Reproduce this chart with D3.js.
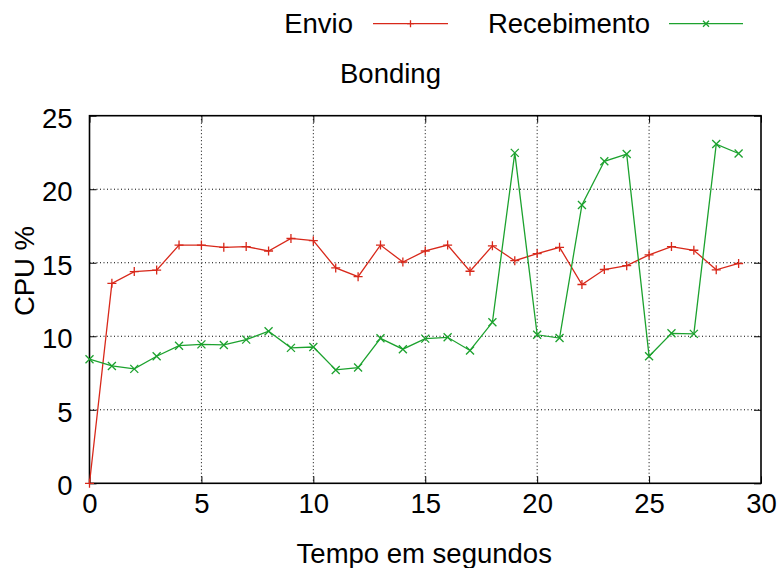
<!DOCTYPE html>
<html>
<head>
<meta charset="utf-8">
<script src="https://cdn.jsdelivr.net/npm/d3@7/dist/d3.min.js"></script>
<style>
  html, body { margin: 0; padding: 0; background: #fff; }
  text { font-family: "Liberation Sans", Arial, Helvetica, sans-serif; fill: #000; }
</style>
</head>
<body>
<svg id="chart" width="783" height="568"></svg>
<script>
const seconds = d3.range(0, 30);
const envio = [0, 13.6, 14.4, 14.5, 16.2, 16.2, 16.05, 16.1, 15.8, 16.65,
               16.5, 14.65, 14.05, 16.2, 15.05, 15.8, 16.2, 14.42, 16.15, 15.14,
               15.62, 16.05, 13.52, 14.54, 14.8, 15.54, 16.1, 15.85, 14.52, 14.95];
const recebimento = [8.44, 7.98, 7.78, 8.64, 9.36, 9.45, 9.41, 9.77, 10.34, 9.21,
                     9.27, 7.71, 7.87, 9.86, 9.12, 9.84, 9.93, 9.03, 10.95, 22.47,
                     10.1, 9.88, 18.93, 21.9, 22.39, 8.64, 10.2, 10.16, 23.07, 22.43];
const xTicks = [0, 5, 10, 15, 20, 25, 30];
const yTicks = [0, 5, 10, 15, 20, 25];
const seriesNames = ["Envio", "Recebimento"];
const legendTitle = "Bonding";
const xLabel = "Tempo em segundos";
const yLabel = "CPU %";

const RED = "#d8281a", GREEN = "#1ca22e";
const FS = 27.5;

const svg = d3.select("#chart");
const L = 89.5, R = 761, T = 115.7, B = 483.3;
const x = d3.scaleLinear().domain([0, 30]).range([L, R]);
const y = d3.scaleLinear().domain([0, 25]).range([B, T]);

// grid
const g = svg.append("g");
g.selectAll("line.vg").data(xTicks.filter(d => d > 0 && d < 30)).join("line")
  .attr("x1", d => x(d)).attr("x2", d => x(d)).attr("y1", T).attr("y2", B)
  .attr("stroke", "#000").attr("stroke-width", 1).attr("stroke-dasharray", "1,2.5");
g.selectAll("line.hg").data(yTicks.filter(d => d > 0 && d < 25)).join("line")
  .attr("y1", d => y(d)).attr("y2", d => y(d)).attr("x1", L).attr("x2", R)
  .attr("stroke", "#000").attr("stroke-width", 1).attr("stroke-dasharray", "1,2.5");

// axes via d3 (ticks inward)
const tk = 7;
const axB = svg.append("g").attr("transform", `translate(0,${B})`)
  .call(d3.axisBottom(x).tickValues(xTicks).tickSize(-tk).tickPadding(tk + 22));
const axT = svg.append("g").attr("transform", `translate(0,${T})`)
  .call(d3.axisTop(x).tickValues(xTicks).tickSize(-tk).tickFormat(""));
const axL = svg.append("g").attr("transform", `translate(${L},0)`)
  .call(d3.axisLeft(y).tickValues(yTicks).tickSize(-tk).tickPadding(0));
const axR = svg.append("g").attr("transform", `translate(${R},0)`)
  .call(d3.axisRight(y).tickValues(yTicks).tickSize(-tk).tickFormat(""));
[axB, axT, axL, axR].forEach(a => {
  a.select(".domain").remove();
  a.selectAll(".tick line").attr("stroke", "#000").attr("stroke-width", 1);
});
axB.selectAll(".tick text").attr("font-size", FS).attr("font-family", "Liberation Sans, Arial, sans-serif")
  .attr("fill", "#000").attr("dy", 0).attr("y", 30);
axL.selectAll(".tick text").attr("font-size", FS).attr("font-family", "Liberation Sans, Arial, sans-serif")
  .attr("fill", "#000").attr("dy", 0).attr("x", -17).attr("y", 11.3);

// frame
svg.append("rect").attr("x", L).attr("y", T).attr("width", R - L).attr("height", B - T)
  .attr("fill", "none").attr("stroke", "#000").attr("stroke-width", 1.6);

// series
const line = d3.line().x((d, i) => x(seconds[i])).y(d => y(d));
function plus(sel, cx, cy, s, color) {
  sel.append("path").attr("d", `M${cx - s},${cy}H${cx + s}M${cx},${cy - s}V${cy + s}`)
    .attr("stroke", color).attr("stroke-width", 1.3).attr("fill", "none");
}
function cross(sel, cx, cy, s, color) {
  sel.append("path").attr("d", `M${cx - s},${cy - s}L${cx + s},${cy + s}M${cx - s},${cy + s}L${cx + s},${cy - s}`)
    .attr("stroke", color).attr("stroke-width", 1.3).attr("fill", "none");
}
const sg = svg.append("g");
sg.append("path").datum(envio).attr("d", line).attr("fill", "none").attr("stroke", RED).attr("stroke-width", 1.3);
sg.append("path").datum(recebimento).attr("d", line).attr("fill", "none").attr("stroke", GREEN).attr("stroke-width", 1.3);
envio.forEach((v, i) => plus(sg, x(seconds[i]), y(v), 4.5, RED));
recebimento.forEach((v, i) => cross(sg, x(seconds[i]), y(v), 4, GREEN));

// legend
const lg = svg.append("g");
lg.append("text").attr("x", 353).attr("y", 33).attr("text-anchor", "end").attr("font-size", FS).text(seriesNames[0]);
lg.append("line").attr("x1", 373).attr("x2", 448).attr("y1", 23.7).attr("y2", 23.7).attr("stroke", RED).attr("stroke-width", 1.3);
plus(lg, 410.5, 23.7, 3.5, RED);
lg.append("text").attr("x", 650).attr("y", 33).attr("text-anchor", "end").attr("font-size", FS).text(seriesNames[1]);
lg.append("line").attr("x1", 669).attr("x2", 743).attr("y1", 23.7).attr("y2", 23.7).attr("stroke", GREEN).attr("stroke-width", 1.3);
cross(lg, 706, 23.7, 3, GREEN);
lg.append("text").attr("x", 340).attr("y", 83).attr("font-size", FS).text(legendTitle);

// axis labels
svg.append("text").attr("x", (L + R) / 2 - 1).attr("y", 562.7).attr("text-anchor", "middle").attr("font-size", FS).text(xLabel);
svg.append("text").attr("transform", "translate(34,271) rotate(-90)").attr("text-anchor", "middle").attr("font-size", FS).text(yLabel);
</script>
</body>
</html>
